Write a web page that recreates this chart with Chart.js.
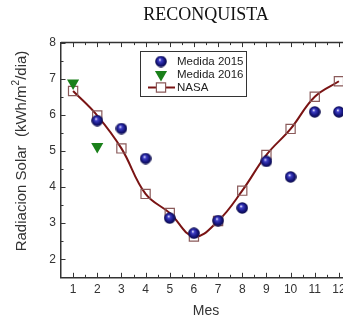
<!DOCTYPE html>
<html>
<head>
<meta charset="utf-8">
<script src="https://cdn.jsdelivr.net/npm/chart.js@4/dist/chart.umd.min.js"></script>
<style>
html,body{margin:0;padding:0;background:#fff;overflow:hidden;width:343px;height:322px;}
canvas{display:block;}
</style>
</head>
<body>
<canvas id="c" width="365" height="322" style="width:365px;height:322px"></canvas>
<script>
// ---- data ----
const months = [1,2,3,4,5,6,7,8,9,10,11,12];
const medida2015 = [null,5.84,5.62,4.79,3.14,2.72,3.07,3.42,4.71,4.28,6.08,6.08];
const medida2016 = [6.88,5.12,null,null,null,null,null,null,null,null,null,null];
const nasa = [6.66,5.98,5.07,3.81,3.28,2.63,3.06,3.90,4.89,5.61,6.50,6.93];
const xTickValues = [1,2,3,4,5,6,7,8,9,10,11,12];
const yTickValues = [2,3,4,5,6,7,8];
const seriesLabels = ['Medida 2015','Medida 2016','NASA'];
const yTitleParts = ['Radiacion Solar  (kWh/m','2','/dia)'];

function pts(arr){ return months.map((m,i)=>({x:m,y:arr[i]})).filter(p=>p.y!==null); }

function sphere(r){
  const c=document.createElement('canvas'); c.width=c.height=2*r;
  const g=c.getContext('2d');
  const grd=g.createRadialGradient(r*0.8,r*0.7,r*0.05,r,r,r);
  grd.addColorStop(0,'#e8e8ff');
  grd.addColorStop(0.22,'#4040c8');
  grd.addColorStop(0.65,'#16167e');
  grd.addColorStop(1,'#080840');
  g.fillStyle=grd; g.beginPath(); g.arc(r,r,r-0.2,0,Math.PI*2); g.fill();
  return c;
}
const ball = sphere(6);

const AX='#333';
const frameTicks = {
  id:'frameTicks',
  afterDraw(chart){
    const ctx=chart.ctx, a=chart.chartArea, xs=chart.scales.x, ys=chart.scales.y;
    ctx.save();
    ctx.strokeStyle=AX; ctx.lineWidth=1.5;
    ctx.beginPath(); ctx.moveTo(a.left,a.top); ctx.lineTo(a.right,a.top); ctx.stroke();
    ctx.lineWidth=1;
    ctx.beginPath();
    xTickValues.forEach(v=>{
      const px=Math.round(xs.getPixelForValue(v))+0.5;
      ctx.moveTo(px,a.bottom); ctx.lineTo(px,a.bottom-4.5);
      ctx.moveTo(px,a.top); ctx.lineTo(px,a.top+4.5);
      const pm=Math.round(xs.getPixelForValue(v+0.5))+0.5;
      if (v+0.5<xs.max){
        ctx.moveTo(pm,a.bottom); ctx.lineTo(pm,a.bottom-2.5);
        ctx.moveTo(pm,a.top); ctx.lineTo(pm,a.top+2.5);
      }
    });
    yTickValues.forEach(v=>{
      const py=Math.round(ys.getPixelForValue(v))+0.5;
      ctx.moveTo(a.left,py); ctx.lineTo(a.left+4.5,py);
      const pm=Math.round(ys.getPixelForValue(v-0.5))+0.5;
      ctx.moveTo(a.left,pm); ctx.lineTo(a.left+2.5,pm);
    });
    ctx.stroke();
    // y axis title with superscript
    const f='"Liberation Sans", Arial, sans-serif';
    ctx.fillStyle='#333';
    ctx.translate(21.5,151); ctx.rotate(-Math.PI/2);
    ctx.textBaseline='middle'; ctx.textAlign='left';
    ctx.font='15px '+f; const w1=ctx.measureText(yTitleParts[0]).width, w3=ctx.measureText(yTitleParts[2]).width;
    ctx.font='10px '+f; const w2=ctx.measureText(yTitleParts[1]).width;
    let x=-(w1+w2+w3)/2;
    ctx.font='15px '+f; ctx.fillText(yTitleParts[0],x,0); x+=w1;
    ctx.font='10px '+f; ctx.fillText(yTitleParts[1],x,-5); x+=w2;
    ctx.font='15px '+f; ctx.fillText(yTitleParts[2],x,0);
    ctx.restore();
  }
};

const legendBox = {
  id:'legendBox',
  afterDraw(chart){
    const ctx=chart.ctx;
    ctx.save();
    ctx.fillStyle='#fff';
    ctx.fillRect(140,51,107,45);
    ctx.strokeStyle=AX; ctx.lineWidth=1;
    ctx.strokeRect(140.5,51.5,106,45);
    const ds=chart.data.datasets;
    const sx=161, tx=177;
    ctx.font='11.5px "Liberation Sans", Arial, sans-serif';
    ctx.textBaseline='middle'; ctx.textAlign='left';
    ds.forEach((d,i)=>{
      const y=61.5+i*13;
      if (i===0){
        ctx.drawImage(ball,sx-6,y-6);
      } else if (i===1){
        ctx.fillStyle=d.backgroundColor; ctx.strokeStyle=d.borderColor;
        Chart.helpers.drawPoint(ctx,{pointStyle:'triangle',radius:d.pointRadius,rotation:180,borderWidth:0},sx,y);
      } else {
        ctx.strokeStyle=d.borderColor; ctx.lineWidth=d.borderWidth;
        ctx.beginPath(); ctx.moveTo(148,y); ctx.lineTo(175,y); ctx.stroke();
        ctx.fillStyle='#fff'; ctx.strokeStyle=d.pointBorderColor; ctx.lineWidth=1.2;
        Chart.helpers.drawPoint(ctx,{pointStyle:'rect',radius:d.pointRadius,rotation:0,borderWidth:1.2},sx,y);
      }
      ctx.fillStyle='#222';
      ctx.fillText(d.label,tx,y);
    });
    ctx.restore();
  }
};

new Chart(document.getElementById('c'),{
  type:'scatter',
  data:{datasets:[
    {label:seriesLabels[0],data:pts(medida2015),pointStyle:ball,pointRadius:6,pointHoverRadius:6,showLine:false,backgroundColor:'#14147a',borderColor:'#14147a'},
    {label:seriesLabels[1],data:pts(medida2016),pointStyle:'triangle',rotation:180,pointRadius:7,pointHoverRadius:7,borderWidth:0,showLine:false,backgroundColor:'#1a801a',borderColor:'#1a801a'},
    {label:seriesLabels[2],data:pts(nasa),showLine:true,tension:0.4,borderColor:'#7a1414',borderWidth:2,pointStyle:'rect',pointRadius:6.5,pointHoverRadius:6.5,pointBorderWidth:1.2,pointBorderColor:'#8a5a5a',pointBackgroundColor:'rgba(255,255,255,0)',backgroundColor:'rgba(0,0,0,0)'}
  ]},
  options:{
    responsive:false,
    animation:false,
    devicePixelRatio:1,
    layout:{padding:{top:0,left:0,right:14,bottom:0}},
    plugins:{
      legend:{display:false},
      tooltip:{enabled:false},
      title:{display:true,fullSize:false,text:'RECONQUISTA',color:'#111',font:{family:'"Liberation Serif","Times New Roman",serif',size:18,weight:'normal'},padding:{top:4,bottom:17}}
    },
    scales:{
      x:{type:'linear',min:0.5,max:12.5,
        afterBuildTicks:s=>{s.ticks=xTickValues.map(v=>({value:v}));},
        afterFit:s=>{s.height=44.7;},
        grid:{display:true,drawOnChartArea:false,drawTicks:false},
        border:{display:true,color:AX,width:1.5},
        ticks:{color:'#333',padding:5,font:{family:'"Liberation Sans",Arial,sans-serif',size:12},callback:v=>String(v),maxRotation:0,autoSkip:false},
        title:{display:true,text:'Mes',color:'#333',font:{family:'"Liberation Sans",Arial,sans-serif',size:14},padding:{top:0,bottom:2}}
      },
      y:{type:'linear',min:1.5,max:8,
        afterBuildTicks:s=>{s.ticks=yTickValues.map(v=>({value:v}));},
        afterFit:s=>{s.width=61;},
        grid:{display:true,drawOnChartArea:false,drawTicks:false},
        border:{display:true,color:AX,width:1.5},
        ticks:{color:'#333',padding:5,font:{family:'"Liberation Sans",Arial,sans-serif',size:12},callback:v=>String(v)},
        title:{display:false}
      }
    }
  },
  plugins:[frameTicks,legendBox]
});
</script>
</body>
</html>
